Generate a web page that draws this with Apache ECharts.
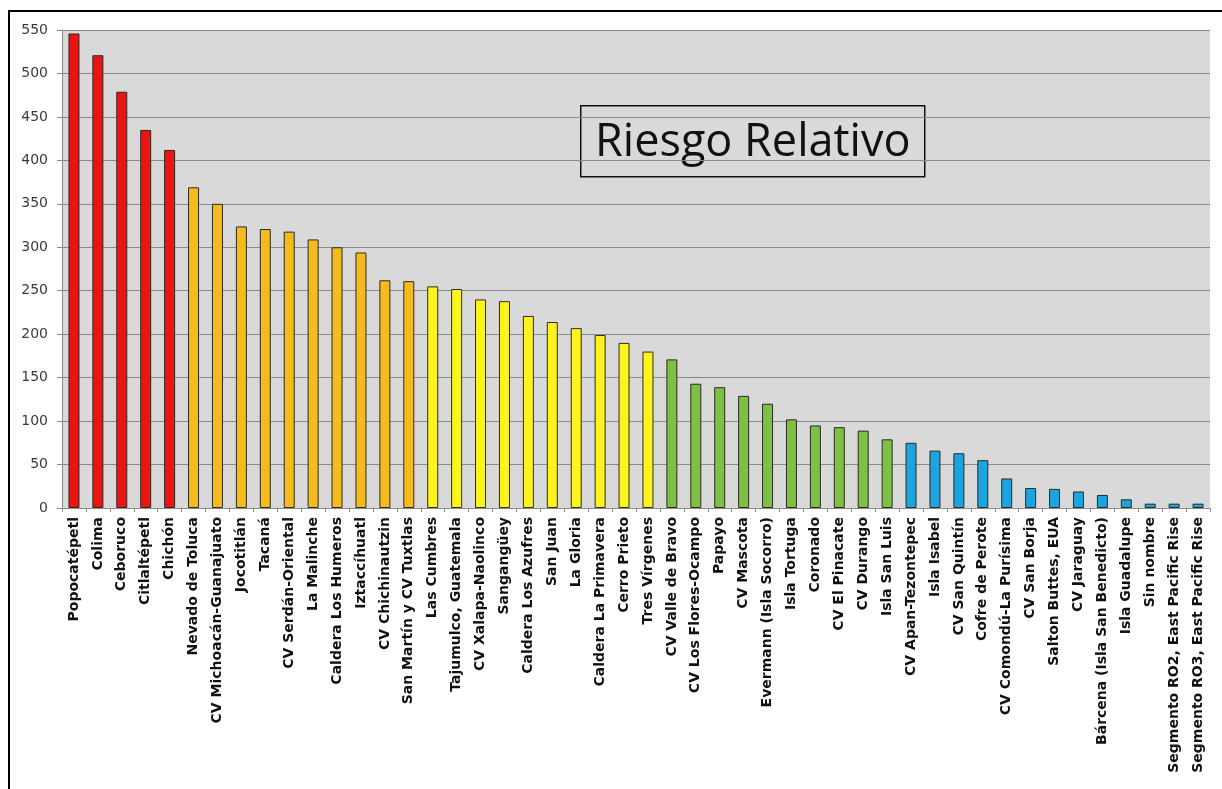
<!DOCTYPE html>
<html>
<head>
<meta charset="utf-8">
<title>Riesgo Relativo</title>
<script src="https://cdn.jsdelivr.net/npm/echarts@6/dist/echarts.min.js"></script>
<style>
  html, body { margin: 0; padding: 0; background: #fff; }
  #vis { width: 1222px; height: 789px; }
</style>
</head>
<body>
<div id="vis"></div>
<script>
const volcanoes = [
  'Popocatépetl', 'Colima', 'Ceboruco', 'Citlaltépetl', 'Chichón',
  'Nevado de Toluca', 'CV Michoacán-Guanajuato', 'Jocotitlán', 'Tacaná', 'CV Serdán-Oriental',
  'La Malinche', 'Caldera Los Humeros', 'Iztaccíhuatl', 'CV Chichinautzin', 'San Martín y CV Tuxtlas',
  'Las Cumbres', 'Tajumulco, Guatemala', 'CV Xalapa-Naolinco', 'Sangangüey', 'Caldera Los Azufres',
  'San Juan', 'La Gloria', 'Caldera La Primavera', 'Cerro Prieto', 'Tres Vírgenes',
  'CV Valle de Bravo', 'CV Los Flores-Ocampo', 'Papayo', 'CV Mascota', 'Evermann (Isla Socorro)',
  'Isla Tortuga', 'Coronado', 'CV El Pinacate', 'CV Durango', 'Isla San Luis',
  'CV Apan-Tezontepec', 'Isla Isabel', 'CV San Quintín', 'Cofre de Perote', 'CV Comondú-La Purísima',
  'CV San Borja', 'Salton Buttes, EUA', 'CV Jaraguay', 'Bárcena (Isla San Benedicto)', 'Isla Guadalupe',
  'Sin nombre', 'Segmento RO2, East Pacific Rise', 'Segmento RO3, East Pacific Rise'
]

const riesgo = [
  546, 521, 479, 435, 412,
  369, 350, 324, 321, 318,
  309, 300, 294, 262, 261,
  255, 252, 240, 238, 221,
  214, 207, 199, 190, 180,
  171, 143, 139, 129, 120,
  102, 95, 93, 89, 79,
  75, 66, 63, 55, 34,
  23, 22, 19, 15, 10,
  5, 5, 5
]

// how many volcanoes fall in each risk class, highest first
const classSizes = [5, 10, 10, 10, 13]
const classColors = ['#ec1313', '#f5bb1d', '#fcf41c', '#7dc143', '#1ba4e0']

const yTicks = [0, 550, 50]

const chart = echarts.init(document.getElementById('vis'), null, { renderer: 'canvas' })

function barData () {
  const out = []
  let k = 0
  classSizes.forEach((n, c) => {
    for (let i = 0; i < n; i++, k++) {
      out.push({ value: riesgo[k], itemStyle: { color: classColors[c] } })
    }
  })
  return out
}

const options = {
  animation: false,
  backgroundColor: '#fff',
  grid: {
    left: 62,
    right: 12,
    top: 30,
    bottom: 281,
    show: true,
    backgroundColor: '#d9d9d9',
    borderWidth: 0
  },
  xAxis: {
    type: 'category',
    data: volcanoes,
    axisLine: { lineStyle: { color: '#8c8c8c', width: 1 } },
    axisTick: { show: true, interval: 0, length: 4, lineStyle: { color: '#8c8c8c' } },
    axisLabel: {
      interval: 0,
      rotate: 90,
      margin: 9,
      color: '#111',
      fontFamily: 'DejaVu Sans',
      fontWeight: 'bold',
      fontSize: 14
    }
  },
  yAxis: {
    type: 'value',
    min: yTicks[0],
    max: yTicks[1],
    interval: yTicks[2],
    axisLine: { show: true, lineStyle: { color: '#8c8c8c', width: 1 } },
    axisTick: { show: true, length: 5, lineStyle: { color: '#8c8c8c' } },
    axisLabel: {
      margin: 14,
      color: '#3a3a3a',
      fontFamily: 'DejaVu Sans',
      fontSize: 14
    },
    splitLine: { lineStyle: { color: '#8a8a8a', width: 1 } }
  },
  series: [
    {
      type: 'bar',
      data: barData(),
      barWidth: 11,
      itemStyle: { borderColor: '#2e2a20', borderWidth: 1 }
    }
  ],
  graphic: [
    {
      type: 'rect',
      shape: { x: 9, y: 11, width: 1230, height: 800 },
      style: { fill: 'none', stroke: '#000', lineWidth: 2 },
      silent: true
    },
    {
      type: 'group',
      left: 580,
      top: 105,
      children: [
        {
          type: 'rect',
          shape: { x: 0, y: 0, width: 344, height: 71 },
          style: { fill: '#d9d9d9', stroke: '#111', lineWidth: 1.5 }
        },
        {
          type: 'text',
          x: 172,
          y: 37,
          style: {
            text: 'Riesgo Relativo',
            fill: '#111',
            font: '45px "Open Sans"',
            align: 'center',
            verticalAlign: 'middle'
          }
        }
      ]
    }
  ]
}

chart.setOption(options)
window.addEventListener('resize', () => chart.resize())
</script>
</body>
</html>
